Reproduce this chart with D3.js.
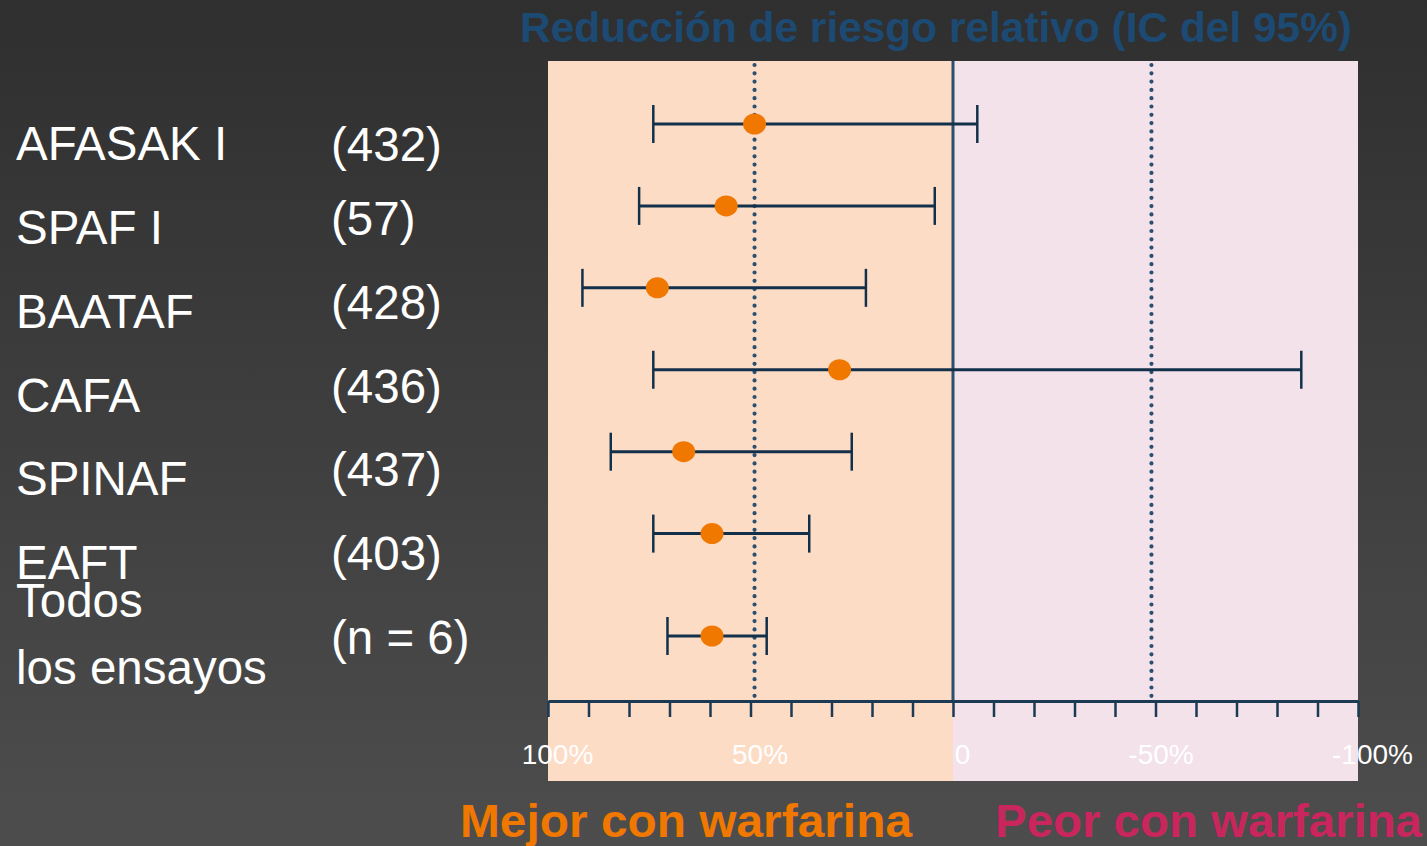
<!DOCTYPE html>
<html><head><meta charset="utf-8">
<script src="https://cdn.jsdelivr.net/npm/d3@7"></script>
<style>
html,body{margin:0;padding:0;overflow:hidden;}
body{width:1427px;height:846px;}
svg{display:block;font-family:"Liberation Sans",Arial,sans-serif;}
</style></head>
<body>
<svg id="chart" width="1427" height="846"></svg>
<script>
// ---- data ----
const trials      = ["AFASAK I", "SPAF I", "BAATAF", "CAFA", "SPINAF", "EAFT"];
const summaryName = ["Todos", "los ensayos"];
const sizes       = ["(432)", "(57)", "(428)", "(436)", "(437)", "(403)", "(n = 6)"];
const rrrPoint    = [49, 56, 73, 28, 66.5, 59.5, 59.5];   // relative risk reduction, %
const rrrLow      = [74, 77.5, 91.5, 74, 84.5, 74, 70.5]; // left end of CI (greater reduction)
const rrrHigh     = [-6, 4.5, 21.5, -86, 25, 35.5, 46];   // right end of CI
const tickValues  = d3.range(100, -101, -10);
const tickLabels  = {"100":"100%", "50":"50%", "0":"0", "-50":"-50%", "-100":"-100%"};
const refLines    = [49, -49];
const titleText   = "Reducción de riesgo relativo (IC del 95%)";
const betterText  = "Mejor con warfarina";
const worseText   = "Peor con warfarina";

const svg = d3.select("#chart");

// background gradient
const defs = svg.append("defs");
const grad = defs.append("linearGradient").attr("id","bg").attr("x1",0).attr("y1",0).attr("x2",0).attr("y2",1);
grad.append("stop").attr("offset","0%").attr("stop-color","#2f2f2f");
grad.append("stop").attr("offset","100%").attr("stop-color","#4d4d4d");
svg.append("rect").attr("width",1427).attr("height",846).attr("fill","url(#bg)");

// scales
const x = d3.scaleLinear().domain([100, -100]).range([548, 1358]);
const summaryGap = 0.25;
const rowIndex = rrrPoint.map((_, i) => i < trials.length ? i : i + summaryGap);
const y = d3.scaleLinear().domain([0, trials.length + summaryGap]).range([124, 636]);
const yLab = d3.scaleLinear().domain([0, trials.length]).range([160, 663]);

const plotTop = 61, axisY = 701, plotBottom = 781;

// shaded halves
svg.append("rect").attr("x", x(100)).attr("y", plotTop).attr("width", x(0)-x(100))
  .attr("height", plotBottom-plotTop).attr("fill", "#fddcc6");
svg.append("rect").attr("x", x(0)).attr("y", plotTop).attr("width", x(-100)-x(0))
  .attr("height", plotBottom-plotTop).attr("fill", "#f3e2ea");

// reference dotted lines
svg.selectAll("line.ref").data(refLines).join("line").attr("class","ref")
  .attr("x1", d=>x(d)).attr("x2", d=>x(d)).attr("y1", plotTop+4).attr("y2", axisY)
  .attr("stroke","#2b4f6f").attr("stroke-width",4.2).attr("stroke-linecap","round")
  .attr("stroke-dasharray","0,8.3");

// zero line
svg.append("line").attr("x1",x(0)).attr("x2",x(0)).attr("y1",plotTop).attr("y2",axisY)
  .attr("stroke","#2b4f6f").attr("stroke-width",3);

// axis
const labelShift = {"-50": 5, "-100": 14};
const axis = d3.axisBottom(x).tickValues(tickValues).tickSizeInner(16).tickSizeOuter(0)
  .tickPadding(27).tickFormat(d => tickLabels[String(d)] || "");
const gAxis = svg.append("g").attr("transform", `translate(0,${axisY})`).call(axis);
gAxis.select(".domain").attr("stroke","#1d3a55").attr("stroke-width",3);
gAxis.selectAll(".tick line").attr("stroke","#1d3a55").attr("stroke-width",2.5);
gAxis.selectAll(".tick text").attr("fill","#ffffff").attr("font-size",28)
  .attr("font-family","'Liberation Sans',Arial,sans-serif")
  .attr("dx", d => labelShift[String(d)] ?? 9);

// error bars
const rows = rrrPoint.map((p, i) => ({p, lo: rrrLow[i], hi: rrrHigh[i], r: rowIndex[i]}));
const g = svg.append("g");
g.selectAll("line.ci").data(rows).join("line").attr("class","ci")
  .attr("x1", d=>x(d.lo)).attr("x2", d=>x(d.hi)).attr("y1", d=>y(d.r)).attr("y2", d=>y(d.r))
  .attr("stroke","#13304b").attr("stroke-width",3);
g.selectAll("line.capL").data(rows).join("line").attr("class","capL")
  .attr("x1", d=>x(d.lo)).attr("x2", d=>x(d.lo)).attr("y1", d=>y(d.r)-19).attr("y2", d=>y(d.r)+19)
  .attr("stroke","#13304b").attr("stroke-width",2.5);
g.selectAll("line.capR").data(rows).join("line").attr("class","capR")
  .attr("x1", d=>x(d.hi)).attr("x2", d=>x(d.hi)).attr("y1", d=>y(d.r)-19).attr("y2", d=>y(d.r)+19)
  .attr("stroke","#13304b").attr("stroke-width",2.5);
g.selectAll("ellipse").data(rows).join("ellipse")
  .attr("cx", d=>x(d.p)).attr("cy", d=>y(d.r)).attr("rx",11.5).attr("ry",10.5)
  .attr("fill","#f07800");

// left labels
const labSize = 47.5;
svg.selectAll("text.trial").data(trials).join("text").attr("class","trial")
  .attr("x",16).attr("y",(d,i)=>yLab(i)).attr("fill","#ffffff").attr("font-size",labSize).text(d=>d);
svg.append("text").attr("x",16).attr("y",yLab(trials.length)-46).attr("fill","#ffffff")
  .attr("font-size",labSize).text(summaryName[0]);
svg.append("text").attr("x",16).attr("y",yLab(trials.length)+21).attr("fill","#ffffff")
  .attr("font-size",labSize).text(summaryName[1]);
svg.selectAll("text.size").data(sizes).join("text").attr("class","size")
  .attr("x",331).attr("y",(d,i)=>yLab(i) + (i===0 ? 1 : -9)).attr("fill","#ffffff")
  .attr("font-size",labSize).text(d=>d);

// title
svg.append("text").attr("x",520).attr("y",42).attr("fill","#1c4a73")
  .attr("font-size",42.5).attr("font-weight","bold")
  .attr("textLength",832).attr("lengthAdjust","spacingAndGlyphs").text(titleText);

// bottom captions
svg.append("text").attr("x",460).attr("y",837).attr("fill","#f07800")
  .attr("font-size",47).attr("font-weight","bold")
  .attr("textLength",452).attr("lengthAdjust","spacingAndGlyphs").text(betterText);
svg.append("text").attr("x",995).attr("y",837).attr("fill","#c8265c")
  .attr("font-size",47).attr("font-weight","bold")
  .attr("textLength",427).attr("lengthAdjust","spacingAndGlyphs").text(worseText);
</script>
</body></html>
